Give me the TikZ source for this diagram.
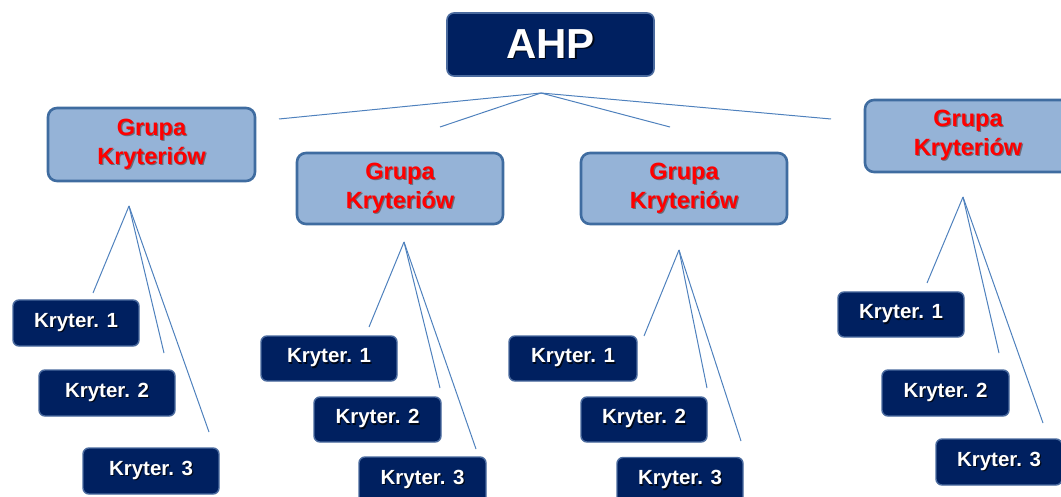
\documentclass[tikz,border=0pt]{standalone}
\usepackage{fontspec}
\setmainfont{Liberation Sans}
\definecolor{navy}{HTML}{002060}
\definecolor{navyedge}{HTML}{4A6A9E}
\definecolor{grpfill}{HTML}{95B3D7}
\definecolor{grpedge}{HTML}{3F6CA0}
\definecolor{linkc}{HTML}{4F81BD}
\definecolor{txtred}{HTML}{FF0000}
\definecolor{redshade}{HTML}{6A6A78}
\definecolor{navyshade}{HTML}{000818}
% text with a soft offset shadow
\newcommand{\shd}[2]{\makebox[0pt][l]{\hspace{1.2pt}\raisebox{-1.2pt}{\textcolor{#1}{#2}}}#2}
\begin{document}
\begin{tikzpicture}[x=1pt,y=-1pt,
  topbox/.style={draw=navyedge,line width=1.6pt,fill=navy,rounded corners=7pt,
    minimum width=207pt,minimum height=63pt,inner sep=0pt,
    text=white,font=\fontsize{42}{46}\selectfont\bfseries},
  grpbox/.style={draw=grpedge,line width=2.6pt,fill=grpfill,rounded corners=9pt,
    minimum width=206pt,minimum height=72pt,inner sep=0pt,align=center,
    text=txtred,font=\fontsize{23.5}{29}\selectfont\bfseries},
  krbox/.style={draw=navyedge,line width=1.4pt,fill=navy,rounded corners=6pt,
    minimum height=46pt,inner sep=0pt,
    text=white,font=\fontsize{20.5}{24}\selectfont\bfseries},
  link/.style={draw=linkc,line width=1pt}]
\useasboundingbox (0,0) rectangle (1061,497);

% top
\node[topbox] (ahp) at (550.5,44.5) {\shd{navyshade}{AHP}};
\coordinate (hub0) at (541,93);
\coordinate (e01) at (279,119);
\coordinate (e02) at (440,127);
\coordinate (e03) at (670,127);
\coordinate (e04) at (831,119);
\draw[link] (hub0) -- (e01);
\draw[link] (hub0) -- (e02);
\draw[link] (hub0) -- (e03);
\draw[link] (hub0) -- (e04);

% groups
\node[grpbox,minimum width=207pt,minimum height=73pt] (g1) at (151.5,144.5) {\shd{redshade}{Grupa}\\\shd{redshade}{Kryteriów}};
\node[grpbox,minimum height=71pt] (g2) at (400,188.5) {\shd{redshade}{Grupa}\\\shd{redshade}{Kryteriów}};
\node[grpbox,minimum height=71pt] (g3) at (684,188.5) {\shd{redshade}{Grupa}\\\shd{redshade}{Kryteriów}};
\node[grpbox] (g4) at (968,136) {\shd{redshade}{Grupa}\\\shd{redshade}{Kryteriów}};

% group 1 criteria
\node[krbox,minimum width=126pt] (k11) at (76,323) {\shd{navyshade}{Kryter. 1}};
\node[krbox,minimum width=136pt] (k12) at (107,393) {\shd{navyshade}{Kryter. 2}};
\node[krbox,minimum width=136pt] (k13) at (151,471) {\shd{navyshade}{Kryter. 3}};
\coordinate (hub1) at (129,206);
\coordinate (e11) at (93,293);
\coordinate (e12) at (164,353);
\coordinate (e13) at (209,432);
\draw[link] (hub1) -- (e11);
\draw[link] (hub1) -- (e12);
\draw[link] (hub1) -- (e13);

% group 2 criteria
\node[krbox,minimum width=136pt,minimum height=45pt] (k21) at (329,358.5) {\shd{navyshade}{Kryter. 1}};
\node[krbox,minimum width=127pt,minimum height=45pt] (k22) at (377.5,419.5) {\shd{navyshade}{Kryter. 2}};
\node[krbox,minimum width=127pt] (k23) at (422.5,480) {\shd{navyshade}{Kryter. 3}};
\coordinate (hub2) at (404,242);
\coordinate (e21) at (369,327);
\coordinate (e22) at (440,388);
\coordinate (e23) at (476,449);
\draw[link] (hub2) -- (e21);
\draw[link] (hub2) -- (e22);
\draw[link] (hub2) -- (e23);

% group 3 criteria
\node[krbox,minimum width=128pt,minimum height=45pt] (k31) at (573,358.5) {\shd{navyshade}{Kryter. 1}};
\node[krbox,minimum width=126pt,minimum height=45pt] (k32) at (644,419.5) {\shd{navyshade}{Kryter. 2}};
\node[krbox,minimum width=126pt] (k33) at (680,480.5) {\shd{navyshade}{Kryter. 3}};
\coordinate (hub3) at (679,250);
\coordinate (e31) at (644,336);
\coordinate (e32) at (707,388);
\coordinate (e33) at (741,441);
\draw[link] (hub3) -- (e31);
\draw[link] (hub3) -- (e32);
\draw[link] (hub3) -- (e33);

% group 4 criteria
\node[krbox,minimum width=126pt,minimum height=45pt] (k41) at (901,314.5) {\shd{navyshade}{Kryter. 1}};
\node[krbox,minimum width=127pt] (k42) at (945.5,393) {\shd{navyshade}{Kryter. 2}};
\node[krbox,minimum width=126pt] (k43) at (999,462) {\shd{navyshade}{Kryter. 3}};
\coordinate (hub4) at (963,197);
\coordinate (e41) at (927,283);
\coordinate (e42) at (999,353);
\coordinate (e43) at (1043,423);
\draw[link] (hub4) -- (e41);
\draw[link] (hub4) -- (e42);
\draw[link] (hub4) -- (e43);
\end{tikzpicture}
\end{document}
